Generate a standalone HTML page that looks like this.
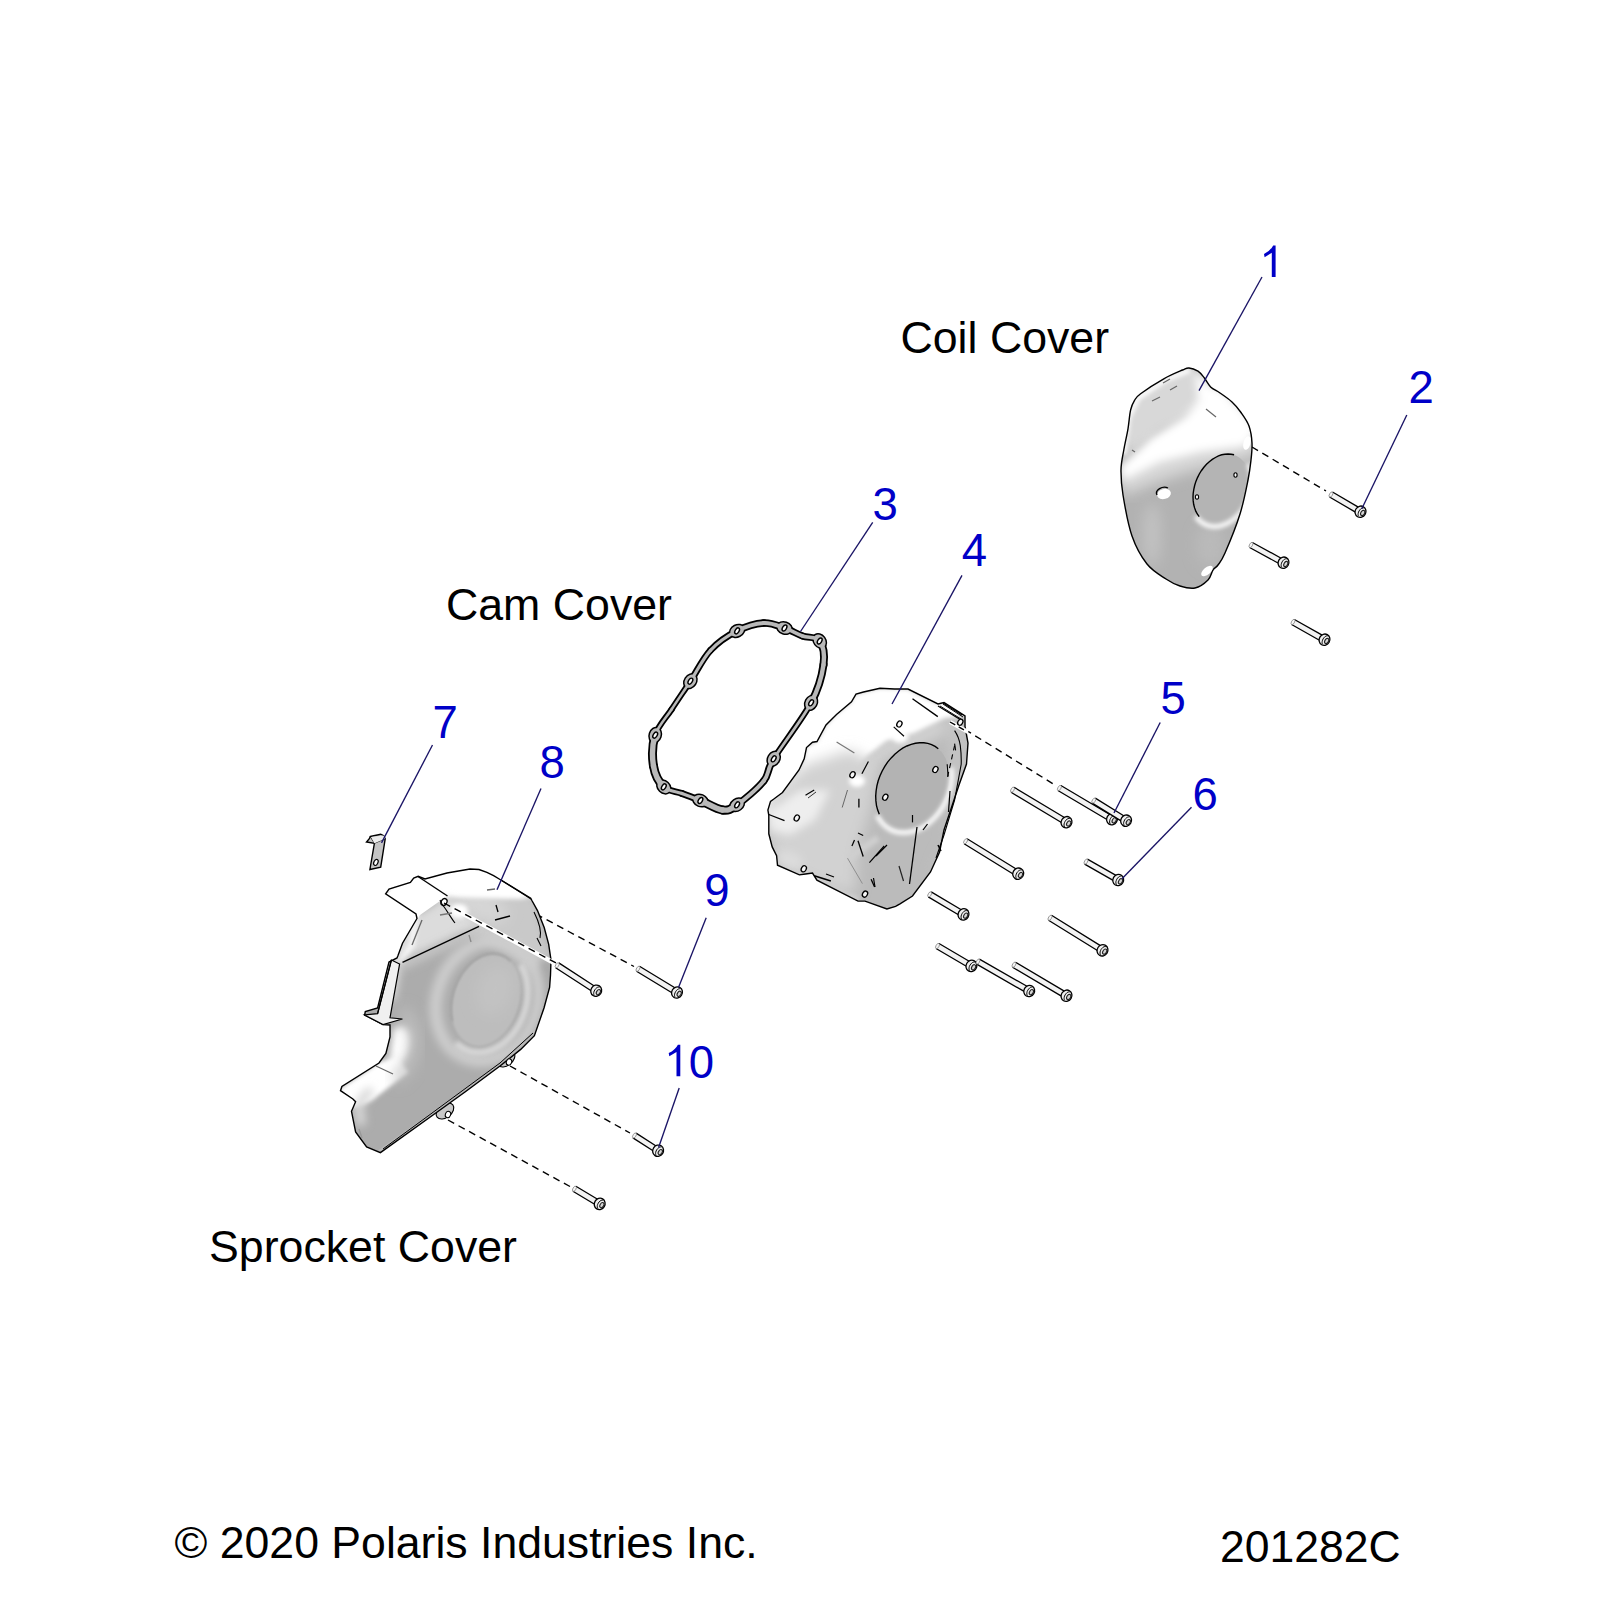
<!DOCTYPE html><html><head><meta charset="utf-8"><style>html,body{margin:0;padding:0;background:#fff;width:1600px;height:1600px;overflow:hidden}svg{display:block}</style></head><body>
<svg width="1600" height="1600" viewBox="0 0 1600 1600" style="font-family:'Liberation Sans', sans-serif">
<defs>
<filter id="b1" x="-50%" y="-50%" width="200%" height="200%"><feGaussianBlur stdDeviation="1.2"/></filter>
<filter id="b2" x="-50%" y="-50%" width="200%" height="200%"><feGaussianBlur stdDeviation="2"/></filter>
<filter id="b4" x="-50%" y="-50%" width="200%" height="200%"><feGaussianBlur stdDeviation="4"/></filter>
<filter id="b7" x="-50%" y="-50%" width="200%" height="200%"><feGaussianBlur stdDeviation="7"/></filter>
<clipPath id="cCoil"><path d="M1189.0,368.0 C1191.6,368.2 1195.4,369.6 1198.0,371.2 C1200.6,372.9 1202.3,375.4 1204.4,378.0 C1206.5,380.6 1208.0,384.4 1210.6,386.9 C1213.2,389.4 1216.4,390.5 1220.0,393.0 C1223.6,395.5 1228.5,398.8 1232.0,402.0 C1235.5,405.2 1238.2,408.5 1241.0,412.5 C1243.8,416.5 1247.2,420.9 1249.0,426.0 C1250.8,431.1 1251.7,437.3 1252.0,443.0 C1252.3,448.7 1251.7,453.8 1251.0,460.0 C1250.3,466.2 1249.8,471.0 1248.0,480.0 C1246.2,489.0 1243.8,501.8 1240.0,514.0 C1236.2,526.2 1228.7,544.5 1225.0,553.0 C1221.3,561.5 1220.0,562.2 1218.0,565.0 C1216.0,567.8 1214.7,567.5 1213.0,570.0 C1211.3,572.5 1211.0,577.0 1208.0,580.0 C1205.0,583.0 1199.7,587.0 1195.0,588.0 C1190.3,589.0 1184.8,587.5 1180.0,586.0 C1175.2,584.5 1171.5,582.7 1166.0,579.0 C1160.5,575.3 1152.7,571.2 1147.0,564.0 C1141.3,556.8 1136.0,547.5 1132.0,536.0 C1128.0,524.5 1124.8,506.0 1123.0,495.0 C1121.2,484.0 1120.9,477.5 1121.0,470.0 C1121.1,462.5 1122.6,456.9 1123.8,450.0 C1124.9,443.1 1126.9,435.4 1128.0,428.8 C1129.1,422.1 1129.5,414.7 1130.6,410.0 C1131.7,405.3 1132.7,403.3 1134.4,400.6 C1136.1,397.9 1135.7,397.4 1140.6,393.8 C1145.5,390.1 1156.8,382.7 1163.8,378.8 C1170.7,374.8 1178.3,371.8 1182.5,370.0 C1186.7,368.2 1186.4,367.8 1189.0,368.0Z"/></clipPath>
<clipPath id="cCam"><path d="M880.0,688.2 L863.5,692.0 L856.0,694.2 L851.5,701.8 L836.5,714.5 L826.0,725.0 L817.0,741.5 L812.5,742.2 L806.5,747.5 L804.2,758.8 L799.0,770.0 L782.5,792.5 L773.5,799.3 L770.5,801.4 L767.9,810.0 L768.8,815.4 L768.8,833.8 L772.2,846.9 L776.6,855.6 L777.5,865.2 L799.4,874.9 L805.5,874.0 L812.5,873.1 L816.9,880.1 L858.0,901.1 L865.0,901.1 L886.9,909.0 L895.6,906.4 L900.0,903.8 L912.5,896.0 L930.5,872.0 L939.5,852.4 L944.0,830.0 L959.0,785.0 L966.5,764.0 L968.0,743.0 L965.0,726.5 L965.0,716.0 L944.0,702.5 L938.0,704.0 L908.0,689.0 L894.5,689.0Z"/></clipPath>
<clipPath id="cSpr"><path d="M385.6,893.8 L389.0,889.0 L410.4,882.5 L413.7,878.0 L418.2,876.3 L425.0,879.0 L447.0,873.0 L470.0,869.0 L479.0,869.5 L486.9,872.4 L493.6,875.7 L499.2,879.0 L515.0,888.7 L530.7,898.2 L531.9,900.5 L537.5,910.6 L544.2,927.5 L548.7,944.4 L551.0,960.0 L550.5,975.0 L549.6,987.5 L544.0,1008.0 L534.4,1035.7 L520.7,1049.4 L500.0,1066.0 L465.0,1092.0 L428.5,1118.2 L380.4,1152.6 L366.6,1147.0 L355.6,1132.0 L351.5,1111.3 L355.6,1101.7 L352.9,1099.0 L340.5,1090.7 L341.9,1086.5 L379.0,1063.0 L385.9,1053.5 L390.0,1037.0 L390.0,1025.0 L383.0,1024.6 L364.6,1015.0 L365.3,1011.5 L377.6,1008.0 L389.0,962.0 L397.0,958.0 L398.0,955.6 L402.5,943.2 L417.0,918.5 L416.0,914.0 L385.6,893.8Z"/></clipPath>
<linearGradient id="gCoil" x1="0" y1="0" x2="0.3" y2="1"><stop offset="0" stop-color="#e6e6e6"/><stop offset="0.5" stop-color="#e0e0e0"/><stop offset="1" stop-color="#dadada"/></linearGradient>
<linearGradient id="gCam" x1="0.2" y1="0" x2="0.5" y2="1"><stop offset="0" stop-color="#ffffff"/><stop offset="0.35" stop-color="#eeeeee"/><stop offset="1" stop-color="#d0d0d0"/></linearGradient>
<linearGradient id="gSpr" x1="0" y1="0" x2="0.3" y2="1"><stop offset="0" stop-color="#dcdcdc"/><stop offset="1" stop-color="#d0d0d0"/></linearGradient>
</defs>
<line x1="1252.0" y1="447.0" x2="1326.0" y2="491.0" stroke="#000" stroke-width="1.4" stroke-dasharray="7,5"/>
<line x1="965.0" y1="729.5" x2="1055.0" y2="785.0" stroke="#000" stroke-width="1.4" stroke-dasharray="7,5"/>
<line x1="536.0" y1="914.0" x2="634.0" y2="966.5" stroke="#000" stroke-width="1.4" stroke-dasharray="7,5"/>
<line x1="510.0" y1="1066.0" x2="630.0" y2="1133.0" stroke="#000" stroke-width="1.4" stroke-dasharray="7,5"/>
<line x1="448.0" y1="1120.0" x2="570.0" y2="1186.5" stroke="#000" stroke-width="1.4" stroke-dasharray="7,5"/>
<path d="M737.1,630.9 C746.0,626.4 755.8,623.5 763.7,623.0" fill="none" stroke="#000" stroke-width="7.5" stroke-linecap="round"/>
<path d="M763.7,623.0 C771.6,622.5 778.0,625.8 784.5,628.0" fill="none" stroke="#000" stroke-width="7.5" stroke-linecap="round"/>
<path d="M784.5,628.0 C791.0,630.2 796.6,633.8 802.5,636.0" fill="none" stroke="#000" stroke-width="7.2" stroke-linecap="round"/>
<path d="M802.5,636.0 C808.4,638.2 816.2,636.2 819.7,641.0" fill="none" stroke="#000" stroke-width="7.2" stroke-linecap="round"/>
<path d="M819.7,641.0 C823.2,645.8 824.9,654.4 823.5,664.7" fill="none" stroke="#000" stroke-width="8.0" stroke-linecap="round"/>
<path d="M823.5,664.7 C822.1,675.0 819.4,687.1 811.1,702.8" fill="none" stroke="#000" stroke-width="8.0" stroke-linecap="round"/>
<path d="M811.1,702.8 C802.8,718.5 781.6,745.8 773.7,758.8" fill="none" stroke="#000" stroke-width="6.4" stroke-linecap="round"/>
<path d="M773.7,758.8 C765.8,771.8 769.8,773.3 763.7,781.0" fill="none" stroke="#000" stroke-width="7.5" stroke-linecap="round"/>
<path d="M763.7,781.0 C757.6,788.7 744.0,800.0 737.1,804.8" fill="none" stroke="#000" stroke-width="7.5" stroke-linecap="round"/>
<path d="M737.1,804.8 C730.2,809.6 728.6,810.7 722.5,810.0" fill="none" stroke="#000" stroke-width="9.0" stroke-linecap="round"/>
<path d="M722.5,810.0 C716.4,809.3 707.1,803.2 700.4,800.5" fill="none" stroke="#000" stroke-width="9.0" stroke-linecap="round"/>
<path d="M700.4,800.5 C693.6,797.8 688.1,795.8 682.0,793.5" fill="none" stroke="#000" stroke-width="6.8" stroke-linecap="round"/>
<path d="M682.0,793.5 C675.9,791.2 668.5,791.5 663.8,786.9" fill="none" stroke="#000" stroke-width="6.8" stroke-linecap="round"/>
<path d="M663.8,786.9 C659.0,782.3 654.9,774.6 653.5,766.0" fill="none" stroke="#000" stroke-width="9.0" stroke-linecap="round"/>
<path d="M653.5,766.0 C652.1,757.4 652.2,744.6 655.2,735.1" fill="none" stroke="#000" stroke-width="9.0" stroke-linecap="round"/>
<path d="M655.2,735.1 C658.2,725.6 665.8,718.2 671.7,709.2" fill="none" stroke="#000" stroke-width="6.2" stroke-linecap="round"/>
<path d="M671.7,709.2 C677.6,700.2 683.9,691.0 690.4,681.2" fill="none" stroke="#000" stroke-width="6.2" stroke-linecap="round"/>
<path d="M690.4,681.2 C696.9,671.4 702.7,658.7 710.5,650.3" fill="none" stroke="#000" stroke-width="6.8" stroke-linecap="round"/>
<path d="M710.5,650.3 C718.3,641.9 728.2,635.4 737.1,630.9" fill="none" stroke="#000" stroke-width="6.8" stroke-linecap="round"/>
<ellipse cx="737.1" cy="630.9" rx="8.6" ry="6.8" transform="rotate(-27.2 737.1 630.9)" fill="#000"/>
<ellipse cx="784.5" cy="628.0" rx="8.6" ry="6.8" transform="rotate(18.5 784.5 628.0)" fill="#000"/>
<ellipse cx="819.7" cy="641.0" rx="8.6" ry="6.8" transform="rotate(53.8 819.7 641.0)" fill="#000"/>
<ellipse cx="811.1" cy="702.8" rx="8.6" ry="6.8" transform="rotate(117.9 811.1 702.8)" fill="#000"/>
<ellipse cx="773.7" cy="758.8" rx="8.6" ry="6.8" transform="rotate(121.2 773.7 758.8)" fill="#000"/>
<ellipse cx="737.1" cy="804.8" rx="8.6" ry="6.8" transform="rotate(144.9 737.1 804.8)" fill="#000"/>
<ellipse cx="700.4" cy="800.5" rx="8.6" ry="6.8" transform="rotate(-157.8 700.4 800.5)" fill="#000"/>
<ellipse cx="663.8" cy="786.9" rx="8.6" ry="6.8" transform="rotate(-136.0 663.8 786.9)" fill="#000"/>
<ellipse cx="655.2" cy="735.1" rx="8.6" ry="6.8" transform="rotate(-72.2 655.2 735.1)" fill="#000"/>
<ellipse cx="690.4" cy="681.2" rx="8.6" ry="6.8" transform="rotate(-56.6 690.4 681.2)" fill="#000"/>
<path d="M737.1,630.9 C746.0,626.4 755.8,623.5 763.7,623.0" fill="none" stroke="#b9b9b9" stroke-width="3.9" stroke-linecap="round"/>
<path d="M763.7,623.0 C771.6,622.5 778.0,625.8 784.5,628.0" fill="none" stroke="#b9b9b9" stroke-width="3.9" stroke-linecap="round"/>
<path d="M784.5,628.0 C791.0,630.2 796.6,633.8 802.5,636.0" fill="none" stroke="#b9b9b9" stroke-width="3.6" stroke-linecap="round"/>
<path d="M802.5,636.0 C808.4,638.2 816.2,636.2 819.7,641.0" fill="none" stroke="#b9b9b9" stroke-width="3.6" stroke-linecap="round"/>
<path d="M819.7,641.0 C823.2,645.8 824.9,654.4 823.5,664.7" fill="none" stroke="#b9b9b9" stroke-width="4.4" stroke-linecap="round"/>
<path d="M823.5,664.7 C822.1,675.0 819.4,687.1 811.1,702.8" fill="none" stroke="#b9b9b9" stroke-width="4.4" stroke-linecap="round"/>
<path d="M811.1,702.8 C802.8,718.5 781.6,745.8 773.7,758.8" fill="none" stroke="#b9b9b9" stroke-width="2.8" stroke-linecap="round"/>
<path d="M773.7,758.8 C765.8,771.8 769.8,773.3 763.7,781.0" fill="none" stroke="#b9b9b9" stroke-width="3.9" stroke-linecap="round"/>
<path d="M763.7,781.0 C757.6,788.7 744.0,800.0 737.1,804.8" fill="none" stroke="#b9b9b9" stroke-width="3.9" stroke-linecap="round"/>
<path d="M737.1,804.8 C730.2,809.6 728.6,810.7 722.5,810.0" fill="none" stroke="#b9b9b9" stroke-width="5.4" stroke-linecap="round"/>
<path d="M722.5,810.0 C716.4,809.3 707.1,803.2 700.4,800.5" fill="none" stroke="#b9b9b9" stroke-width="5.4" stroke-linecap="round"/>
<path d="M700.4,800.5 C693.6,797.8 688.1,795.8 682.0,793.5" fill="none" stroke="#b9b9b9" stroke-width="3.2" stroke-linecap="round"/>
<path d="M682.0,793.5 C675.9,791.2 668.5,791.5 663.8,786.9" fill="none" stroke="#b9b9b9" stroke-width="3.2" stroke-linecap="round"/>
<path d="M663.8,786.9 C659.0,782.3 654.9,774.6 653.5,766.0" fill="none" stroke="#b9b9b9" stroke-width="5.4" stroke-linecap="round"/>
<path d="M653.5,766.0 C652.1,757.4 652.2,744.6 655.2,735.1" fill="none" stroke="#b9b9b9" stroke-width="5.4" stroke-linecap="round"/>
<path d="M655.2,735.1 C658.2,725.6 665.8,718.2 671.7,709.2" fill="none" stroke="#b9b9b9" stroke-width="2.6" stroke-linecap="round"/>
<path d="M671.7,709.2 C677.6,700.2 683.9,691.0 690.4,681.2" fill="none" stroke="#b9b9b9" stroke-width="2.6" stroke-linecap="round"/>
<path d="M690.4,681.2 C696.9,671.4 702.7,658.7 710.5,650.3" fill="none" stroke="#b9b9b9" stroke-width="3.2" stroke-linecap="round"/>
<path d="M710.5,650.3 C718.3,641.9 728.2,635.4 737.1,630.9" fill="none" stroke="#b9b9b9" stroke-width="3.2" stroke-linecap="round"/>
<ellipse cx="737.1" cy="630.9" rx="7.1" ry="5.3" transform="rotate(-27.2 737.1 630.9)" fill="#b9b9b9"/>
<ellipse cx="737.1" cy="630.9" rx="1.9" ry="3.3" transform="rotate(32 737.1 630.9)" fill="#fff" stroke="#000" stroke-width="1.4"/>
<ellipse cx="784.5" cy="628.0" rx="7.1" ry="5.3" transform="rotate(18.5 784.5 628.0)" fill="#b9b9b9"/>
<ellipse cx="784.5" cy="628.0" rx="1.9" ry="3.3" transform="rotate(32 784.5 628.0)" fill="#fff" stroke="#000" stroke-width="1.4"/>
<ellipse cx="819.7" cy="641.0" rx="7.1" ry="5.3" transform="rotate(53.8 819.7 641.0)" fill="#b9b9b9"/>
<ellipse cx="819.7" cy="641.0" rx="1.9" ry="3.3" transform="rotate(32 819.7 641.0)" fill="#fff" stroke="#000" stroke-width="1.4"/>
<ellipse cx="811.1" cy="702.8" rx="7.1" ry="5.3" transform="rotate(117.9 811.1 702.8)" fill="#b9b9b9"/>
<ellipse cx="811.1" cy="702.8" rx="1.9" ry="3.3" transform="rotate(32 811.1 702.8)" fill="#fff" stroke="#000" stroke-width="1.4"/>
<ellipse cx="773.7" cy="758.8" rx="7.1" ry="5.3" transform="rotate(121.2 773.7 758.8)" fill="#b9b9b9"/>
<ellipse cx="773.7" cy="758.8" rx="1.9" ry="3.3" transform="rotate(32 773.7 758.8)" fill="#fff" stroke="#000" stroke-width="1.4"/>
<ellipse cx="737.1" cy="804.8" rx="7.1" ry="5.3" transform="rotate(144.9 737.1 804.8)" fill="#b9b9b9"/>
<ellipse cx="737.1" cy="804.8" rx="1.9" ry="3.3" transform="rotate(32 737.1 804.8)" fill="#fff" stroke="#000" stroke-width="1.4"/>
<ellipse cx="700.4" cy="800.5" rx="7.1" ry="5.3" transform="rotate(-157.8 700.4 800.5)" fill="#b9b9b9"/>
<ellipse cx="700.4" cy="800.5" rx="1.9" ry="3.3" transform="rotate(32 700.4 800.5)" fill="#fff" stroke="#000" stroke-width="1.4"/>
<ellipse cx="663.8" cy="786.9" rx="7.1" ry="5.3" transform="rotate(-136.0 663.8 786.9)" fill="#b9b9b9"/>
<ellipse cx="663.8" cy="786.9" rx="1.9" ry="3.3" transform="rotate(32 663.8 786.9)" fill="#fff" stroke="#000" stroke-width="1.4"/>
<ellipse cx="655.2" cy="735.1" rx="7.1" ry="5.3" transform="rotate(-72.2 655.2 735.1)" fill="#b9b9b9"/>
<ellipse cx="655.2" cy="735.1" rx="1.9" ry="3.3" transform="rotate(32 655.2 735.1)" fill="#fff" stroke="#000" stroke-width="1.4"/>
<ellipse cx="690.4" cy="681.2" rx="7.1" ry="5.3" transform="rotate(-56.6 690.4 681.2)" fill="#b9b9b9"/>
<ellipse cx="690.4" cy="681.2" rx="1.9" ry="3.3" transform="rotate(32 690.4 681.2)" fill="#fff" stroke="#000" stroke-width="1.4"/>
<path d="M1189.0,368.0 C1191.6,368.2 1195.4,369.6 1198.0,371.2 C1200.6,372.9 1202.3,375.4 1204.4,378.0 C1206.5,380.6 1208.0,384.4 1210.6,386.9 C1213.2,389.4 1216.4,390.5 1220.0,393.0 C1223.6,395.5 1228.5,398.8 1232.0,402.0 C1235.5,405.2 1238.2,408.5 1241.0,412.5 C1243.8,416.5 1247.2,420.9 1249.0,426.0 C1250.8,431.1 1251.7,437.3 1252.0,443.0 C1252.3,448.7 1251.7,453.8 1251.0,460.0 C1250.3,466.2 1249.8,471.0 1248.0,480.0 C1246.2,489.0 1243.8,501.8 1240.0,514.0 C1236.2,526.2 1228.7,544.5 1225.0,553.0 C1221.3,561.5 1220.0,562.2 1218.0,565.0 C1216.0,567.8 1214.7,567.5 1213.0,570.0 C1211.3,572.5 1211.0,577.0 1208.0,580.0 C1205.0,583.0 1199.7,587.0 1195.0,588.0 C1190.3,589.0 1184.8,587.5 1180.0,586.0 C1175.2,584.5 1171.5,582.7 1166.0,579.0 C1160.5,575.3 1152.7,571.2 1147.0,564.0 C1141.3,556.8 1136.0,547.5 1132.0,536.0 C1128.0,524.5 1124.8,506.0 1123.0,495.0 C1121.2,484.0 1120.9,477.5 1121.0,470.0 C1121.1,462.5 1122.6,456.9 1123.8,450.0 C1124.9,443.1 1126.9,435.4 1128.0,428.8 C1129.1,422.1 1129.5,414.7 1130.6,410.0 C1131.7,405.3 1132.7,403.3 1134.4,400.6 C1136.1,397.9 1135.7,397.4 1140.6,393.8 C1145.5,390.1 1156.8,382.7 1163.8,378.8 C1170.7,374.8 1178.3,371.8 1182.5,370.0 C1186.7,368.2 1186.4,367.8 1189.0,368.0Z" fill="#b2b2b2"/>
<g clip-path="url(#cCoil)">
<path d="M1120,420 L1135,392 L1165,374 L1192,364 L1210,380 L1225,395 L1200,410 L1160,430 L1128,455 Z" fill="#d8d8d8" filter="url(#b4)"/>
<path d="M1124,455 L1128,418 L1138,398 L1165,380 L1190,370" stroke="#fff" stroke-width="5" fill="none" filter="url(#b2)"/>
<path d="M1118,482 C1140,472 1160,465 1185,457 C1210,451 1235,447 1256,440" stroke="#d8d8d8" stroke-width="30" fill="none" filter="url(#b7)"/>
<path d="M1120,468 L1150,438 L1185,416 L1200,398 L1214,390 L1240,405 L1258,430 L1245,446 L1200,452 L1160,462 L1124,480 Z" fill="#fff" filter="url(#b4)"/>
<path d="M1195,372 L1212,388 L1235,402 L1215,412 L1198,398 Z" fill="#fff" filter="url(#b4)"/>
<ellipse cx="1152" cy="535" rx="9" ry="32" fill="#c2c2c2" filter="url(#b7)"/>
<ellipse cx="1210" cy="545" rx="14" ry="22" fill="#bababa" filter="url(#b7)"/>
<ellipse cx="1221.4" cy="489.0" rx="26.5" ry="36.5" transform="rotate(24 1221.4 489.0)" fill="#b4b4b4"/>
<path d="M1248.4,464.0 L1250.1,467.8 L1251.3,471.9 L1252.0,476.3 L1252.3,480.9 L1252.0,485.6 L1251.3,490.4 L1250.0,495.1 L1248.3,499.8 L1246.2,504.2 L1243.7,508.5 L1240.8,512.4 L1237.6,515.9 L1234.1,519.0 L1230.4,521.6 L1226.6,523.7 L1222.7,525.2 L1218.8,526.2 L1214.9,526.5 L1211.1,526.3 L1207.5,525.4 L1204.1,523.9 L1201.0,521.9 L1198.2,519.4 L1195.8,516.3" stroke="#fff" stroke-width="4.5" fill="none" filter="url(#b2)"/>
<path d="M1199.2,516.6 L1197.3,514.0 L1195.8,511.1 L1194.6,507.9 L1193.7,504.5 L1193.2,500.9 L1193.0,497.1 L1193.2,493.2 L1193.8,489.3 L1194.7,485.3 L1195.9,481.4 L1197.5,477.6 L1199.3,474.0 L1201.5,470.5 L1203.9,467.3 L1206.5,464.3 L1209.3,461.7 L1212.3,459.4 L1215.4,457.5 L1218.5,455.9 L1221.7,454.8 L1224.9,454.2 L1228.1,454.0 L1231.1,454.2 L1234.1,454.8" stroke="#000" stroke-width="1.4" fill="none"/>
</g>
<path d="M1189.0,368.0 C1191.6,368.2 1195.4,369.6 1198.0,371.2 C1200.6,372.9 1202.3,375.4 1204.4,378.0 C1206.5,380.6 1208.0,384.4 1210.6,386.9 C1213.2,389.4 1216.4,390.5 1220.0,393.0 C1223.6,395.5 1228.5,398.8 1232.0,402.0 C1235.5,405.2 1238.2,408.5 1241.0,412.5 C1243.8,416.5 1247.2,420.9 1249.0,426.0 C1250.8,431.1 1251.7,437.3 1252.0,443.0 C1252.3,448.7 1251.7,453.8 1251.0,460.0 C1250.3,466.2 1249.8,471.0 1248.0,480.0 C1246.2,489.0 1243.8,501.8 1240.0,514.0 C1236.2,526.2 1228.7,544.5 1225.0,553.0 C1221.3,561.5 1220.0,562.2 1218.0,565.0 C1216.0,567.8 1214.7,567.5 1213.0,570.0 C1211.3,572.5 1211.0,577.0 1208.0,580.0 C1205.0,583.0 1199.7,587.0 1195.0,588.0 C1190.3,589.0 1184.8,587.5 1180.0,586.0 C1175.2,584.5 1171.5,582.7 1166.0,579.0 C1160.5,575.3 1152.7,571.2 1147.0,564.0 C1141.3,556.8 1136.0,547.5 1132.0,536.0 C1128.0,524.5 1124.8,506.0 1123.0,495.0 C1121.2,484.0 1120.9,477.5 1121.0,470.0 C1121.1,462.5 1122.6,456.9 1123.8,450.0 C1124.9,443.1 1126.9,435.4 1128.0,428.8 C1129.1,422.1 1129.5,414.7 1130.6,410.0 C1131.7,405.3 1132.7,403.3 1134.4,400.6 C1136.1,397.9 1135.7,397.4 1140.6,393.8 C1145.5,390.1 1156.8,382.7 1163.8,378.8 C1170.7,374.8 1178.3,371.8 1182.5,370.0 C1186.7,368.2 1186.4,367.8 1189.0,368.0Z" fill="none" stroke="#000" stroke-width="1.4"/>
<ellipse cx="1164" cy="494" rx="7" ry="5" transform="rotate(-15 1164 494)" fill="#fff" stroke="none"/>
<path d="M1157,495 A7,5 -15 0 1 1168,488" stroke="#000" stroke-width="1.4" fill="none"/>
<ellipse cx="1207" cy="571" rx="7" ry="3.5" transform="rotate(-40 1207 571)" fill="#fff"/>
<ellipse cx="1247" cy="443" rx="3.5" ry="7" transform="rotate(15 1247 443)" fill="#fff"/>
<ellipse cx="1235.5" cy="475" rx="1.6" ry="2.2" fill="#fff" stroke="#000" stroke-width="1.1"/>
<ellipse cx="1197" cy="497" rx="1.6" ry="2.2" fill="#fff" stroke="#000" stroke-width="1.1"/>
<line x1="1152" y1="401" x2="1160" y2="397" stroke="#666" stroke-width="1.2"/>
<line x1="1170" y1="390" x2="1177" y2="386" stroke="#666" stroke-width="1.2"/>
<line x1="1163" y1="383" x2="1170" y2="379" stroke="#666" stroke-width="1.2"/>
<line x1="1206" y1="409" x2="1216" y2="417" stroke="#666" stroke-width="1.2"/>
<line x1="1132" y1="450" x2="1135" y2="452" stroke="#666" stroke-width="1.2"/>
<path d="M880.0,688.2 L863.5,692.0 L856.0,694.2 L851.5,701.8 L836.5,714.5 L826.0,725.0 L817.0,741.5 L812.5,742.2 L806.5,747.5 L804.2,758.8 L799.0,770.0 L782.5,792.5 L773.5,799.3 L770.5,801.4 L767.9,810.0 L768.8,815.4 L768.8,833.8 L772.2,846.9 L776.6,855.6 L777.5,865.2 L799.4,874.9 L805.5,874.0 L812.5,873.1 L816.9,880.1 L858.0,901.1 L865.0,901.1 L886.9,909.0 L895.6,906.4 L900.0,903.8 L912.5,896.0 L930.5,872.0 L939.5,852.4 L944.0,830.0 L959.0,785.0 L966.5,764.0 L968.0,743.0 L965.0,726.5 L965.0,716.0 L944.0,702.5 L938.0,704.0 L908.0,689.0 L894.5,689.0Z" fill="#bbbbbb"/>
<g clip-path="url(#cCam)">
<path d="M944,702 L965,716 L968,745 L960,790 L944,830 L925,880 L915,900 L935,860 L950,800 Z" fill="#c2c2c2" filter="url(#b4)"/>
<path d="M945,724 L914,739 L886,748 L867,763 L853,779 L835,790 L812,802 L795,815 L770,825" stroke="#d4d4d4" stroke-width="16" fill="none" filter="url(#b7)"/>
<path d="M855,694 L880,688 L908,689 L938,704 L944,702.5 L965,716 L945,718 L914,733 L886,741 L867,756 L853,772 L838,781 L818,792 L800,803 L786,813 L770,818 L760,805 L782,792 L799,770 L804,759 L806,747 L817,741 L826,725 L836,714 L851,702 Z" fill="#fff" filter="url(#b2)"/>
<path d="M766,800 L805,765 L850,750 L878,765 L872,805 L858,850 L855,895 L820,885 L777,866 L766,830 Z" fill="#d2d2d2" filter="url(#b7)"/>
<path d="M768,812 L800,790 L830,790 L815,820 L790,835 L770,830 Z" fill="#eeeeee" filter="url(#b4)"/>
<ellipse cx="790" cy="860" rx="14" ry="8" transform="rotate(25 790 860)" fill="#dcdcdc" filter="url(#b4)"/>
<ellipse cx="900" cy="737" rx="8" ry="6" fill="#fff" filter="url(#b2)"/>
<ellipse cx="857" cy="781" rx="8" ry="6" fill="#fff" filter="url(#b2)"/>
<path d="M790,872 L858,900" stroke="#d0d0d0" stroke-width="6" filter="url(#b2)"/>
<path d="M848,858 L878,838" stroke="#cfcfcf" stroke-width="7" filter="url(#b2)"/>
<ellipse cx="912.5" cy="786.4" rx="34.0" ry="46.0" transform="rotate(27 912.5 786.4)" fill="#b3b3b3"/>
<path d="M951.1,767.6 L951.7,772.8 L951.7,778.1 L951.2,783.7 L950.1,789.2 L948.5,794.7 L946.4,800.1 L943.8,805.3 L940.7,810.2 L937.2,814.8 L933.4,819.0 L929.3,822.7 L924.9,825.9 L920.3,828.5 L915.7,830.5 L911.0,831.8 L906.3,832.6 L901.7,832.6 L897.2,832.0 L893.0,830.8 L889.1,828.8 L885.5,826.3 L882.3,823.3 L879.5,819.6 L877.2,815.5" stroke="#fff" stroke-width="4.5" fill="none" filter="url(#b2)"/>
<path d="M879.3,814.2 L877.7,810.1 L876.5,805.6 L875.9,800.9 L875.7,796.0 L876.1,791.0 L876.9,785.9 L878.2,780.8 L880.0,775.8 L882.2,771.0 L884.8,766.3 L887.8,761.9 L891.2,757.9 L894.8,754.2 L898.7,751.0 L902.7,748.2 L906.9,746.0 L911.2,744.3 L915.4,743.2 L919.7,742.7 L923.8,742.7 L927.8,743.4 L931.6,744.6 L935.1,746.4 L938.3,748.7" stroke="#000" stroke-width="1.4" fill="none"/>
</g>
<path d="M880.0,688.2 L863.5,692.0 L856.0,694.2 L851.5,701.8 L836.5,714.5 L826.0,725.0 L817.0,741.5 L812.5,742.2 L806.5,747.5 L804.2,758.8 L799.0,770.0 L782.5,792.5 L773.5,799.3 L770.5,801.4 L767.9,810.0 L768.8,815.4 L768.8,833.8 L772.2,846.9 L776.6,855.6 L777.5,865.2 L799.4,874.9 L805.5,874.0 L812.5,873.1 L816.9,880.1 L858.0,901.1 L865.0,901.1 L886.9,909.0 L895.6,906.4 L900.0,903.8 L912.5,896.0 L930.5,872.0 L939.5,852.4 L944.0,830.0 L959.0,785.0 L966.5,764.0 L968.0,743.0 L965.0,726.5 L965.0,716.0 L944.0,702.5 L938.0,704.0 L908.0,689.0 L894.5,689.0Z" fill="none" stroke="#000" stroke-width="1.4"/>
<path d="M954.6,730.6 C959,737 960.3,745.6 960.3,745.6 C961.5,755 961.2,764.3 961.2,764.3 L954.6,800 L944,835 L936,858" stroke="#000" stroke-width="1.1" fill="none"/>
<path d="M912.5,698.8 L937.8,716.6" stroke="#000" stroke-width="1.4"/>
<path d="M940,706 L961,719 M943,704 L963,717" stroke="#000" stroke-width="1.0" fill="none"/>
<path d="M954.6,745.6 L947.2,778.4" stroke="#000" stroke-width="1.1" stroke-dasharray="5,4"/>
<line x1="950" y1="722" x2="968" y2="732" stroke="#fff" stroke-width="4"/>
<line x1="950" y1="722" x2="966" y2="731" stroke="#000" stroke-width="1.4" stroke-dasharray="6,4"/>
<path d="M938,706 L961,720 M943,703 L962,715" stroke="#000" stroke-width="1.2" fill="none"/>
<ellipse cx="899.4" cy="724.0" rx="2.4" ry="3.2" transform="rotate(30 899.4 724.0)" fill="#f8f8f8" stroke="#000" stroke-width="1.3"/>
<ellipse cx="852.5" cy="774.7" rx="2.4" ry="3.2" transform="rotate(30 852.5 774.7)" fill="#f8f8f8" stroke="#000" stroke-width="1.3"/>
<ellipse cx="960.3" cy="722.2" rx="2.4" ry="3.2" transform="rotate(30 960.3 722.2)" fill="#f8f8f8" stroke="#000" stroke-width="1.3"/>
<ellipse cx="935.4" cy="769.5" rx="2.4" ry="3.2" transform="rotate(30 935.4 769.5)" fill="#f8f8f8" stroke="#000" stroke-width="1.3"/>
<ellipse cx="885.3" cy="797.2" rx="2.4" ry="3.2" transform="rotate(30 885.3 797.2)" fill="#f8f8f8" stroke="#000" stroke-width="1.3"/>
<ellipse cx="796.8" cy="818.0" rx="2.4" ry="3.2" transform="rotate(30 796.8 818.0)" fill="#f8f8f8" stroke="#000" stroke-width="1.3"/>
<ellipse cx="803.8" cy="868.8" rx="2.4" ry="3.2" transform="rotate(30 803.8 868.8)" fill="#f8f8f8" stroke="#000" stroke-width="1.3"/>
<ellipse cx="865.0" cy="894.1" rx="2.4" ry="3.2" transform="rotate(30 865.0 894.1)" fill="#f8f8f8" stroke="#000" stroke-width="1.3"/>
<line x1="836.6" y1="741.9" x2="854.4" y2="753.1" stroke="#777" stroke-width="1.2"/>
<line x1="893.7" y1="726.9" x2="904.0" y2="736.2" stroke="#000" stroke-width="1.2"/>
<line x1="868.4" y1="761.5" x2="861.9" y2="773.7" stroke="#000" stroke-width="1.2"/>
<line x1="954.6" y1="743.7" x2="955.6" y2="750.3" stroke="#000" stroke-width="1.1"/>
<line x1="947.2" y1="764.3" x2="948.1" y2="776.5" stroke="#000" stroke-width="1.1"/>
<line x1="805.5" y1="795.2" x2="814.2" y2="790.0" stroke="#000" stroke-width="1.2"/>
<line x1="808.0" y1="798.0" x2="816.0" y2="792.0" stroke="#333" stroke-width="1.0"/>
<line x1="768.8" y1="814.5" x2="784.5" y2="820.6" stroke="#000" stroke-width="1.3"/>
<line x1="842.2" y1="807.5" x2="847.5" y2="790.0" stroke="#666" stroke-width="1.0"/>
<line x1="858.9" y1="798.8" x2="858.9" y2="807.5" stroke="#000" stroke-width="1.3"/>
<line x1="858.0" y1="832.9" x2="863.2" y2="835.5" stroke="#000" stroke-width="1.1"/>
<line x1="851.9" y1="846.0" x2="854.5" y2="839.9" stroke="#000" stroke-width="1.2"/>
<line x1="858.0" y1="840.8" x2="863.2" y2="856.5" stroke="#000" stroke-width="1.3"/>
<line x1="869.4" y1="862.6" x2="884.2" y2="846.0" stroke="#000" stroke-width="1.2"/>
<line x1="847.5" y1="858.2" x2="862.4" y2="883.6" stroke="#888" stroke-width="0.9"/>
<line x1="871.1" y1="879.2" x2="874.6" y2="887.1" stroke="#000" stroke-width="1.3"/>
<line x1="814.2" y1="875.7" x2="830.9" y2="881.0" stroke="#000" stroke-width="1.6"/>
<line x1="826.0" y1="874.0" x2="834.0" y2="877.0" stroke="#000" stroke-width="1.2"/>
<line x1="917.0" y1="827.0" x2="909.5" y2="884.0" stroke="#000" stroke-width="1.3"/>
<line x1="899.0" y1="866.0" x2="903.5" y2="881.0" stroke="#222" stroke-width="1.2"/>
<line x1="927.5" y1="824.0" x2="923.0" y2="830.0" stroke="#000" stroke-width="1.2"/>
<line x1="912.5" y1="815.0" x2="912.5" y2="822.4" stroke="#000" stroke-width="1.2"/>
<line x1="950.0" y1="791.0" x2="948.5" y2="812.0" stroke="#000" stroke-width="1.2"/>
<line x1="938.0" y1="845.0" x2="941.0" y2="851.0" stroke="#000" stroke-width="1.5"/>
<line x1="887.0" y1="845.0" x2="876.0" y2="856.0" stroke="#000" stroke-width="1.2"/>
<line x1="873.5" y1="878.0" x2="875.0" y2="887.0" stroke="#000" stroke-width="1.2"/>
<ellipse cx="445.0" cy="1111.0" rx="10" ry="6.5" transform="rotate(-38 445.0 1111.0)" fill="#c8c8c8" stroke="#000" stroke-width="1.1"/>
<ellipse cx="506.0" cy="1059.0" rx="10" ry="6.5" transform="rotate(-38 506.0 1059.0)" fill="#c8c8c8" stroke="#000" stroke-width="1.1"/>
<path d="M385.6,893.8 L389.0,889.0 L410.4,882.5 L413.7,878.0 L418.2,876.3 L425.0,879.0 L447.0,873.0 L470.0,869.0 L479.0,869.5 L486.9,872.4 L493.6,875.7 L499.2,879.0 L515.0,888.7 L530.7,898.2 L531.9,900.5 L537.5,910.6 L544.2,927.5 L548.7,944.4 L551.0,960.0 L550.5,975.0 L549.6,987.5 L544.0,1008.0 L534.4,1035.7 L520.7,1049.4 L500.0,1066.0 L465.0,1092.0 L428.5,1118.2 L380.4,1152.6 L366.6,1147.0 L355.6,1132.0 L351.5,1111.3 L355.6,1101.7 L352.9,1099.0 L340.5,1090.7 L341.9,1086.5 L379.0,1063.0 L385.9,1053.5 L390.0,1037.0 L390.0,1025.0 L383.0,1024.6 L364.6,1015.0 L365.3,1011.5 L377.6,1008.0 L389.0,962.0 L397.0,958.0 L398.0,955.6 L402.5,943.2 L417.0,918.5 L416.0,914.0 L385.6,893.8Z" fill="#acacac"/>
<g clip-path="url(#cSpr)">
<path d="M440,868 L500,870 L535,896 L552,960 L540,975 L500,950 L470,935 L440,915 Z" fill="#c9c9c9" filter="url(#b4)"/>
<ellipse cx="480" cy="905" rx="30" ry="14" transform="rotate(25 480 905)" fill="#d6d6d6" filter="url(#b7)"/>
<path d="M553,960 L550,1000 L535,1036 L505,1066 L520,1000 L540,960 Z" fill="#a6a6a6" filter="url(#b4)"/>
<path d="M380,890 L418,872 L470,862 L502,872 L540,895 L520,899 L450,897 L420,905 Z" fill="#fff" filter="url(#b2)"/>
<path d="M416,915 L447,897 L479,926 L402,962 L395,1000 L375,1000 L395,930 Z" fill="#dcdcdc" filter="url(#b4)"/>
<path d="M416,912 L412,945 L400,962" stroke="#f6f6f6" stroke-width="6" fill="none" filter="url(#b2)"/>
<path d="M386,894 L418,877 L447,896 L420,915 L402,943 Z" fill="#fff"/>
<ellipse cx="459" cy="911" rx="9" ry="7" fill="#fff" filter="url(#b2)"/>
<path d="M402,966 L479,930" stroke="#c4c4c4" stroke-width="8" fill="none" filter="url(#b4)"/>
<path d="M398,1028 C408,1050 398,1068 368,1088 L352,1100" stroke="#fff" stroke-width="13" fill="none" filter="url(#b4)"/>
<path d="M338,1090 L380,1062 L398,1058 L408,1072 L372,1100 L354,1108 Z" fill="#fff" filter="url(#b2)"/>
<ellipse cx="401" cy="1045" rx="8" ry="17" transform="rotate(15 401 1045)" fill="#fff" filter="url(#b4)"/>
<path d="M362,1125 C358,1110 356,1100 372,1090" stroke="#d8d8d8" stroke-width="9" fill="none" filter="url(#b4)"/>
<path d="M402,1010 C420,1030 420,1060 395,1080" stroke="#c0c0c0" stroke-width="10" fill="none" filter="url(#b7)"/>
<ellipse cx="487" cy="1001" rx="50" ry="61" transform="rotate(20 487 1001)" fill="none" stroke="#cdcdcd" stroke-width="12" filter="url(#b4)"/>
<path d="M520.5,964.7 L523.1,969.5 L525.2,974.8 L526.7,980.5 L527.5,986.5 L527.7,992.7 L527.3,999.1 L526.2,1005.5 L524.6,1011.8 L522.3,1017.9 L519.5,1023.8 L516.2,1029.3 L512.4,1034.4 L508.2,1039.0 L503.7,1043.1 L498.9,1046.4 L493.9,1049.1 L488.8,1051.1 L483.6,1052.2 L478.5,1052.6 L473.5,1052.3 L468.7,1051.1 L464.1,1049.2 L459.9,1046.5 L456.1,1043.1" stroke="#d6d6d6" stroke-width="7" fill="none" filter="url(#b2)"/>
<ellipse cx="486" cy="1000" rx="33" ry="47" transform="rotate(18 486 1000)" fill="#bdbdbd" filter="url(#b1)"/>
<path d="M452.2,1021.1 L451.4,1016.5 L451.0,1011.7 L451.0,1006.7 L451.4,1001.7 L452.3,996.6 L453.5,991.6 L455.2,986.7 L457.2,982.0 L459.5,977.4 L462.2,973.1 L465.1,969.2 L468.3,965.6 L471.7,962.4 L475.3,959.7 L479.0,957.4 L482.8,955.7 L486.6,954.5 L490.4,953.8 L494.2,953.7 L497.8,954.1 L501.4,955.1 L504.7,956.6 L507.8,958.6 L510.7,961.1" stroke="#a4a4a4" stroke-width="2.4" fill="none" filter="url(#b1)"/>
<ellipse cx="495" cy="990" rx="18" ry="26" transform="rotate(18 495 990)" fill="#c2c2c2" filter="url(#b7)"/>
<path d="M380,1152 L428,1118 L500,1066 L534,1036" stroke="#b8b8b8" stroke-width="5" fill="none"/>
</g>
<path d="M385.6,893.8 L389.0,889.0 L410.4,882.5 L413.7,878.0 L418.2,876.3 L425.0,879.0 L447.0,873.0 L470.0,869.0 L479.0,869.5 L486.9,872.4 L493.6,875.7 L499.2,879.0 L515.0,888.7 L530.7,898.2 L531.9,900.5 L537.5,910.6 L544.2,927.5 L548.7,944.4 L551.0,960.0 L550.5,975.0 L549.6,987.5 L544.0,1008.0 L534.4,1035.7 L520.7,1049.4 L500.0,1066.0 L465.0,1092.0 L428.5,1118.2 L380.4,1152.6 L366.6,1147.0 L355.6,1132.0 L351.5,1111.3 L355.6,1101.7 L352.9,1099.0 L340.5,1090.7 L341.9,1086.5 L379.0,1063.0 L385.9,1053.5 L390.0,1037.0 L390.0,1025.0 L383.0,1024.6 L364.6,1015.0 L365.3,1011.5 L377.6,1008.0 L389.0,962.0 L397.0,958.0 L398.0,955.6 L402.5,943.2 L417.0,918.5 L416.0,914.0 L385.6,893.8Z" fill="none" stroke="#000" stroke-width="1.4"/>
<path d="M402.5,962.4 L479,926.4" stroke="#000" stroke-width="1.4"/>
<path d="M418,876.5 L447.5,896" stroke="#000" stroke-width="1.4"/>
<path d="M501,880 L531,899" stroke="#000" stroke-width="1.1"/>
<path d="M534,912 C539,922 542,930 540,938 M537,938 L541,946" stroke="#000" stroke-width="1.1" fill="none"/>
<path d="M422,920 L412,945" stroke="#666" stroke-width="1.3"/>
<path d="M391.4,960 L399.6,964 L390,1017.8 L402.4,1019 L383,1024.6 L364.6,1015 L377.6,1013.6 Z" fill="#f0f0f0" stroke="#000" stroke-width="1.2"/>
<path d="M391.4,960 L377.6,1013.6" stroke="#000" stroke-width="1.2"/>
<path d="M383,1149 L428,1116 L500,1063 L533,1033" stroke="#000" stroke-width="1.0" fill="none"/>
<ellipse cx="448.0" cy="1114.5" rx="2.6" ry="3.3" transform="rotate(20 448.0 1114.5)" fill="#fff" stroke="#000" stroke-width="1.1"/>
<ellipse cx="509.0" cy="1062.0" rx="2.6" ry="3.3" transform="rotate(20 509.0 1062.0)" fill="#fff" stroke="#000" stroke-width="1.1"/>
<ellipse cx="444" cy="902" rx="2.8" ry="3.6" transform="rotate(30 444 902)" fill="#fff" stroke="#000" stroke-width="1.3"/>
<path d="M440,900 L442,904 C448,912 451,918 455,923" stroke="#000" stroke-width="1.1" fill="none"/>
<line x1="487" y1="890" x2="495" y2="889" stroke="#666" stroke-width="1.3"/>
<line x1="496" y1="905" x2="498" y2="912" stroke="#000" stroke-width="1.3"/>
<line x1="495" y1="920" x2="510" y2="916" stroke="#000" stroke-width="1.3"/>
<line x1="440" y1="915" x2="452" y2="913" stroke="#777" stroke-width="1.3"/>
<line x1="469" y1="935" x2="471" y2="942" stroke="#888" stroke-width="1.3"/>
<line x1="376" y1="1066" x2="393" y2="1074" stroke="#666" stroke-width="1.3"/>
<line x1="359" y1="1129" x2="362" y2="1138" stroke="#999" stroke-width="1.3"/>
<line x1="458" y1="911" x2="556" y2="964" stroke="#fff" stroke-width="4.5"/>
<line x1="444" y1="903" x2="556" y2="963" stroke="#000" stroke-width="1.4" stroke-dasharray="7,5"/>
<path d="M370.2,836.5 L380.7,834.2 L383.7,835.7 L385.2,838.8 L380.7,867.2 L369.9,869.5 L374.4,843.3 L366.5,842 L369.5,838.4 Z" fill="#c4c4c4" stroke="#000" stroke-width="1.4"/>
<path d="M370.2,836.5 L374.4,843.3 M374.4,843.3 L385.2,838.8" stroke="#000" stroke-width="0.8" fill="none"/>
<path d="M371,837 L383.5,835.5 L385,838.8 L374.4,843.3 Z" fill="#ececec"/>
<ellipse cx="375.9" cy="862.4" rx="2" ry="3.2" transform="rotate(25 375.9 862.4)" fill="#fff" stroke="#000" stroke-width="1.2"/>
<path d="M1329.5,497.0 L1355.4,512.1 L1358.3,507.1 L1332.5,492.0 Z" fill="#f3f3f3" stroke="none"/><path d="M1329.5,497.0 L1355.4,512.1 M1332.5,492.0 L1358.3,507.1" stroke="#000" stroke-width="1.3" fill="none"/><ellipse cx="1331.0" cy="494.5" rx="1.5" ry="2.9" transform="rotate(30.3 1331.0 494.5)" fill="#f6f6f6" stroke="#666" stroke-width="0.6"/><ellipse cx="1360.5" cy="511.7" rx="5.3" ry="5.8" transform="rotate(30.3 1360.5 511.7)" fill="#f0f0f0" stroke="#000" stroke-width="1.3"/><path d="M1358.8,516.4 L1358.3,515.6 L1358.1,514.6 L1358.2,513.4 L1358.5,512.1 L1359.1,510.9 L1359.9,509.8 L1360.8,508.8 L1361.8,508.2 L1362.8,507.9 L1363.7,507.9" stroke="#000" stroke-width="1.0" fill="none"/><ellipse cx="1362.7" cy="513.0" rx="1.8" ry="2.8" transform="rotate(30.3 1362.7 513.0)" fill="#d6d6d6" stroke="#222" stroke-width="1.1"/>
<path d="M1249.6,547.5 L1278.4,563.2 L1281.2,558.2 L1252.4,542.5 Z" fill="#f3f3f3" stroke="none"/><path d="M1249.6,547.5 L1278.4,563.2 M1252.4,542.5 L1281.2,558.2" stroke="#000" stroke-width="1.3" fill="none"/><ellipse cx="1251.0" cy="545.0" rx="1.5" ry="2.9" transform="rotate(28.6 1251.0 545.0)" fill="#f6f6f6" stroke="#666" stroke-width="0.6"/><ellipse cx="1283.5" cy="562.7" rx="5.3" ry="5.8" transform="rotate(28.6 1283.5 562.7)" fill="#f0f0f0" stroke="#000" stroke-width="1.3"/><path d="M1281.9,567.5 L1281.4,566.7 L1281.2,565.7 L1281.2,564.5 L1281.5,563.2 L1282.1,561.9 L1282.8,560.8 L1283.7,559.8 L1284.7,559.2 L1285.7,558.8 L1286.6,558.8" stroke="#000" stroke-width="1.0" fill="none"/><ellipse cx="1285.8" cy="564.0" rx="1.8" ry="2.8" transform="rotate(28.6 1285.8 564.0)" fill="#d6d6d6" stroke="#222" stroke-width="1.1"/>
<path d="M1291.6,624.5 L1319.4,640.2 L1322.2,635.1 L1294.4,619.5 Z" fill="#f3f3f3" stroke="none"/><path d="M1291.6,624.5 L1319.4,640.2 M1294.4,619.5 L1322.2,635.1" stroke="#000" stroke-width="1.3" fill="none"/><ellipse cx="1293.0" cy="622.0" rx="1.5" ry="2.9" transform="rotate(29.4 1293.0 622.0)" fill="#f6f6f6" stroke="#666" stroke-width="0.6"/><ellipse cx="1324.5" cy="639.7" rx="5.3" ry="5.8" transform="rotate(29.4 1324.5 639.7)" fill="#f0f0f0" stroke="#000" stroke-width="1.3"/><path d="M1322.8,644.4 L1322.3,643.7 L1322.1,642.6 L1322.2,641.5 L1322.5,640.2 L1323.1,638.9 L1323.9,637.8 L1324.8,636.8 L1325.8,636.2 L1326.8,635.8 L1327.7,635.8" stroke="#000" stroke-width="1.0" fill="none"/><ellipse cx="1326.7" cy="641.0" rx="1.8" ry="2.8" transform="rotate(29.4 1326.7 641.0)" fill="#d6d6d6" stroke="#222" stroke-width="1.1"/>
<path d="M1011.0,792.2 L1061.4,822.5 L1064.4,817.5 L1014.0,787.2 Z" fill="#f3f3f3" stroke="none"/><path d="M1011.0,792.2 L1061.4,822.5 M1014.0,787.2 L1064.4,817.5" stroke="#000" stroke-width="1.3" fill="none"/><ellipse cx="1012.5" cy="789.7" rx="1.5" ry="2.9" transform="rotate(31.0 1012.5 789.7)" fill="#f6f6f6" stroke="#666" stroke-width="0.6"/><ellipse cx="1066.5" cy="822.2" rx="5.3" ry="5.8" transform="rotate(31.0 1066.5 822.2)" fill="#f0f0f0" stroke="#000" stroke-width="1.3"/><path d="M1064.7,826.9 L1064.2,826.1 L1064.0,825.1 L1064.1,823.9 L1064.5,822.6 L1065.1,821.4 L1065.9,820.2 L1066.9,819.3 L1067.9,818.7 L1068.9,818.4 L1069.8,818.4" stroke="#000" stroke-width="1.0" fill="none"/><ellipse cx="1068.7" cy="823.5" rx="1.8" ry="2.8" transform="rotate(31.0 1068.7 823.5)" fill="#d6d6d6" stroke="#222" stroke-width="1.1"/>
<path d="M1057.9,790.5 L1106.9,819.5 L1109.8,814.5 L1060.9,785.5 Z" fill="#f3f3f3" stroke="none"/><path d="M1057.9,790.5 L1106.9,819.5 M1060.9,785.5 L1109.8,814.5" stroke="#000" stroke-width="1.3" fill="none"/><ellipse cx="1059.4" cy="788.0" rx="1.5" ry="2.9" transform="rotate(30.6 1059.4 788.0)" fill="#f6f6f6" stroke="#666" stroke-width="0.6"/><ellipse cx="1112.0" cy="819.1" rx="5.3" ry="5.8" transform="rotate(30.6 1112.0 819.1)" fill="#f0f0f0" stroke="#000" stroke-width="1.3"/><path d="M1110.2,823.8 L1109.8,823.0 L1109.6,822.0 L1109.7,820.8 L1110.0,819.5 L1110.6,818.3 L1111.4,817.2 L1112.3,816.2 L1113.4,815.6 L1114.3,815.3 L1115.2,815.3" stroke="#000" stroke-width="1.0" fill="none"/><ellipse cx="1114.2" cy="820.4" rx="1.8" ry="2.8" transform="rotate(30.6 1114.2 820.4)" fill="#d6d6d6" stroke="#222" stroke-width="1.1"/>
<path d="M1092.2,803.1 L1121.0,820.9 L1124.1,816.0 L1095.3,798.1 Z" fill="#f3f3f3" stroke="none"/><path d="M1092.2,803.1 L1121.0,820.9 M1095.3,798.1 L1124.1,816.0" stroke="#000" stroke-width="1.3" fill="none"/><ellipse cx="1093.8" cy="800.6" rx="1.5" ry="2.9" transform="rotate(31.8 1093.8 800.6)" fill="#f6f6f6" stroke="#666" stroke-width="0.6"/><ellipse cx="1126.1" cy="820.7" rx="5.3" ry="5.8" transform="rotate(31.8 1126.1 820.7)" fill="#f0f0f0" stroke="#000" stroke-width="1.3"/><path d="M1124.2,825.3 L1123.8,824.5 L1123.6,823.5 L1123.7,822.3 L1124.1,821.1 L1124.7,819.8 L1125.6,818.7 L1126.5,817.8 L1127.5,817.2 L1128.5,816.9 L1129.4,817.0" stroke="#000" stroke-width="1.0" fill="none"/><ellipse cx="1128.3" cy="822.1" rx="1.8" ry="2.8" transform="rotate(31.8 1128.3 822.1)" fill="#d6d6d6" stroke="#222" stroke-width="1.1"/>
<path d="M964.1,843.7 L1013.1,874.0 L1016.2,869.0 L967.1,838.8 Z" fill="#f3f3f3" stroke="none"/><path d="M964.1,843.7 L1013.1,874.0 M967.1,838.8 L1016.2,869.0" stroke="#000" stroke-width="1.3" fill="none"/><ellipse cx="965.6" cy="841.2" rx="1.5" ry="2.9" transform="rotate(31.6 965.6 841.2)" fill="#f6f6f6" stroke="#666" stroke-width="0.6"/><ellipse cx="1018.2" cy="873.7" rx="5.3" ry="5.8" transform="rotate(31.6 1018.2 873.7)" fill="#f0f0f0" stroke="#000" stroke-width="1.3"/><path d="M1016.4,878.3 L1016.0,877.6 L1015.8,876.5 L1015.9,875.3 L1016.3,874.1 L1016.9,872.8 L1017.7,871.7 L1018.7,870.8 L1019.7,870.2 L1020.7,869.9 L1021.6,870.0" stroke="#000" stroke-width="1.0" fill="none"/><ellipse cx="1020.5" cy="875.0" rx="1.8" ry="2.8" transform="rotate(31.6 1020.5 875.0)" fill="#d6d6d6" stroke="#222" stroke-width="1.1"/>
<path d="M1084.6,864.1 L1113.1,880.4 L1116.0,875.4 L1087.4,859.1 Z" fill="#f3f3f3" stroke="none"/><path d="M1084.6,864.1 L1113.1,880.4 M1087.4,859.1 L1116.0,875.4" stroke="#000" stroke-width="1.3" fill="none"/><ellipse cx="1086.0" cy="861.6" rx="1.5" ry="2.9" transform="rotate(29.7 1086.0 861.6)" fill="#f6f6f6" stroke="#666" stroke-width="0.6"/><ellipse cx="1118.2" cy="880.0" rx="5.3" ry="5.8" transform="rotate(29.7 1118.2 880.0)" fill="#f0f0f0" stroke="#000" stroke-width="1.3"/><path d="M1116.6,884.7 L1116.1,883.9 L1115.9,882.9 L1115.9,881.7 L1116.3,880.5 L1116.8,879.2 L1117.6,878.1 L1118.5,877.1 L1119.5,876.5 L1120.5,876.1 L1121.4,876.2" stroke="#000" stroke-width="1.0" fill="none"/><ellipse cx="1120.5" cy="881.3" rx="1.8" ry="2.8" transform="rotate(29.7 1120.5 881.3)" fill="#d6d6d6" stroke="#222" stroke-width="1.1"/>
<path d="M928.2,896.9 L958.4,914.8 L961.3,909.8 L931.2,891.9 Z" fill="#f3f3f3" stroke="none"/><path d="M928.2,896.9 L958.4,914.8 M931.2,891.9 L961.3,909.8" stroke="#000" stroke-width="1.3" fill="none"/><ellipse cx="929.7" cy="894.4" rx="1.5" ry="2.9" transform="rotate(30.6 929.7 894.4)" fill="#f6f6f6" stroke="#666" stroke-width="0.6"/><ellipse cx="963.5" cy="914.4" rx="5.3" ry="5.8" transform="rotate(30.6 963.5 914.4)" fill="#f0f0f0" stroke="#000" stroke-width="1.3"/><path d="M961.7,919.1 L961.3,918.3 L961.1,917.3 L961.1,916.1 L961.5,914.8 L962.1,913.6 L962.9,912.5 L963.8,911.5 L964.9,910.9 L965.8,910.6 L966.7,910.6" stroke="#000" stroke-width="1.0" fill="none"/><ellipse cx="965.7" cy="915.7" rx="1.8" ry="2.8" transform="rotate(30.6 965.7 915.7)" fill="#d6d6d6" stroke="#222" stroke-width="1.1"/>
<path d="M1048.5,920.3 L1097.4,950.5 L1100.4,945.6 L1051.5,915.3 Z" fill="#f3f3f3" stroke="none"/><path d="M1048.5,920.3 L1097.4,950.5 M1051.5,915.3 L1100.4,945.6" stroke="#000" stroke-width="1.3" fill="none"/><ellipse cx="1050.0" cy="917.8" rx="1.5" ry="2.9" transform="rotate(31.8 1050.0 917.8)" fill="#f6f6f6" stroke="#666" stroke-width="0.6"/><ellipse cx="1102.5" cy="950.3" rx="5.3" ry="5.8" transform="rotate(31.8 1102.5 950.3)" fill="#f0f0f0" stroke="#000" stroke-width="1.3"/><path d="M1100.6,954.9 L1100.2,954.2 L1100.0,953.1 L1100.1,951.9 L1100.5,950.7 L1101.1,949.4 L1102.0,948.3 L1102.9,947.4 L1103.9,946.8 L1104.9,946.5 L1105.8,946.6" stroke="#000" stroke-width="1.0" fill="none"/><ellipse cx="1104.7" cy="951.7" rx="1.8" ry="2.8" transform="rotate(31.8 1104.7 951.7)" fill="#d6d6d6" stroke="#222" stroke-width="1.1"/>
<path d="M936.0,948.5 L966.3,966.3 L969.2,961.3 L939.0,943.5 Z" fill="#f3f3f3" stroke="none"/><path d="M936.0,948.5 L966.3,966.3 M939.0,943.5 L969.2,961.3" stroke="#000" stroke-width="1.3" fill="none"/><ellipse cx="937.5" cy="946.0" rx="1.5" ry="2.9" transform="rotate(30.5 937.5 946.0)" fill="#f6f6f6" stroke="#666" stroke-width="0.6"/><ellipse cx="971.4" cy="965.9" rx="5.3" ry="5.8" transform="rotate(30.5 971.4 965.9)" fill="#f0f0f0" stroke="#000" stroke-width="1.3"/><path d="M969.6,970.6 L969.2,969.9 L969.0,968.8 L969.1,967.6 L969.4,966.4 L970.0,965.1 L970.8,964.0 L971.7,963.1 L972.7,962.4 L973.7,962.1 L974.6,962.1" stroke="#000" stroke-width="1.0" fill="none"/><ellipse cx="973.6" cy="967.3" rx="1.8" ry="2.8" transform="rotate(30.5 973.6 967.3)" fill="#d6d6d6" stroke="#222" stroke-width="1.1"/>
<path d="M976.6,964.1 L1024.1,991.4 L1027.0,986.3 L979.4,959.1 Z" fill="#f3f3f3" stroke="none"/><path d="M976.6,964.1 L1024.1,991.4 M979.4,959.1 L1027.0,986.3" stroke="#000" stroke-width="1.3" fill="none"/><ellipse cx="978.0" cy="961.6" rx="1.5" ry="2.9" transform="rotate(29.8 978.0 961.6)" fill="#f6f6f6" stroke="#666" stroke-width="0.6"/><ellipse cx="1029.2" cy="991.0" rx="5.3" ry="5.8" transform="rotate(29.8 1029.2 991.0)" fill="#f0f0f0" stroke="#000" stroke-width="1.3"/><path d="M1027.5,995.7 L1027.0,994.9 L1026.8,993.9 L1026.9,992.7 L1027.2,991.4 L1027.8,990.2 L1028.6,989.0 L1029.5,988.1 L1030.5,987.4 L1031.5,987.1 L1032.4,987.1" stroke="#000" stroke-width="1.0" fill="none"/><ellipse cx="1031.4" cy="992.2" rx="1.8" ry="2.8" transform="rotate(29.8 1031.4 992.2)" fill="#d6d6d6" stroke="#222" stroke-width="1.1"/>
<path d="M1012.5,967.2 L1061.4,996.1 L1064.3,991.1 L1015.5,962.2 Z" fill="#f3f3f3" stroke="none"/><path d="M1012.5,967.2 L1061.4,996.1 M1015.5,962.2 L1064.3,991.1" stroke="#000" stroke-width="1.3" fill="none"/><ellipse cx="1014.0" cy="964.7" rx="1.5" ry="2.9" transform="rotate(30.6 1014.0 964.7)" fill="#f6f6f6" stroke="#666" stroke-width="0.6"/><ellipse cx="1066.5" cy="995.7" rx="5.3" ry="5.8" transform="rotate(30.6 1066.5 995.7)" fill="#f0f0f0" stroke="#000" stroke-width="1.3"/><path d="M1064.7,1000.4 L1064.3,999.6 L1064.1,998.6 L1064.2,997.4 L1064.5,996.1 L1065.1,994.9 L1065.9,993.8 L1066.8,992.8 L1067.8,992.2 L1068.8,991.9 L1069.7,991.9" stroke="#000" stroke-width="1.0" fill="none"/><ellipse cx="1068.7" cy="997.0" rx="1.8" ry="2.8" transform="rotate(30.6 1068.7 997.0)" fill="#d6d6d6" stroke="#222" stroke-width="1.1"/>
<path d="M555.6,967.7 L591.1,990.8 L594.3,986.0 L558.8,962.9 Z" fill="#f3f3f3" stroke="none"/><path d="M555.6,967.7 L591.1,990.8 M558.8,962.9 L594.3,986.0" stroke="#000" stroke-width="1.3" fill="none"/><ellipse cx="557.2" cy="965.3" rx="1.5" ry="2.9" transform="rotate(33.0 557.2 965.3)" fill="#f6f6f6" stroke="#666" stroke-width="0.6"/><ellipse cx="596.2" cy="990.7" rx="5.3" ry="5.8" transform="rotate(33.0 596.2 990.7)" fill="#f0f0f0" stroke="#000" stroke-width="1.3"/><path d="M594.2,995.3 L593.8,994.5 L593.7,993.5 L593.8,992.3 L594.2,991.0 L594.9,989.8 L595.7,988.7 L596.7,987.8 L597.7,987.2 L598.7,987.0 L599.6,987.0" stroke="#000" stroke-width="1.0" fill="none"/><ellipse cx="598.4" cy="992.1" rx="1.8" ry="2.8" transform="rotate(33.0 598.4 992.1)" fill="#d6d6d6" stroke="#222" stroke-width="1.1"/>
<path d="M636.5,971.3 L671.9,992.8 L674.9,987.8 L639.5,966.3 Z" fill="#f3f3f3" stroke="none"/><path d="M636.5,971.3 L671.9,992.8 M639.5,966.3 L674.9,987.8" stroke="#000" stroke-width="1.3" fill="none"/><ellipse cx="638.0" cy="968.8" rx="1.5" ry="2.9" transform="rotate(31.3 638.0 968.8)" fill="#f6f6f6" stroke="#666" stroke-width="0.6"/><ellipse cx="677.0" cy="992.5" rx="5.3" ry="5.8" transform="rotate(31.3 677.0 992.5)" fill="#f0f0f0" stroke="#000" stroke-width="1.3"/><path d="M675.2,997.2 L674.7,996.4 L674.5,995.3 L674.6,994.2 L675.0,992.9 L675.6,991.7 L676.4,990.5 L677.4,989.6 L678.4,989.0 L679.4,988.7 L680.3,988.7" stroke="#000" stroke-width="1.0" fill="none"/><ellipse cx="679.2" cy="993.8" rx="1.8" ry="2.8" transform="rotate(31.3 679.2 993.8)" fill="#d6d6d6" stroke="#222" stroke-width="1.1"/>
<path d="M632.9,1137.9 L653.0,1150.8 L656.1,1146.0 L636.1,1133.1 Z" fill="#f3f3f3" stroke="none"/><path d="M632.9,1137.9 L653.0,1150.8 M636.1,1133.1 L656.1,1146.0" stroke="#000" stroke-width="1.3" fill="none"/><ellipse cx="634.5" cy="1135.5" rx="1.5" ry="2.9" transform="rotate(32.7 634.5 1135.5)" fill="#f6f6f6" stroke="#666" stroke-width="0.6"/><ellipse cx="658.1" cy="1150.7" rx="5.3" ry="5.8" transform="rotate(32.7 658.1 1150.7)" fill="#f0f0f0" stroke="#000" stroke-width="1.3"/><path d="M656.2,1155.3 L655.7,1154.5 L655.6,1153.5 L655.7,1152.3 L656.1,1151.0 L656.7,1149.8 L657.6,1148.7 L658.6,1147.8 L659.6,1147.2 L660.6,1146.9 L661.5,1147.0" stroke="#000" stroke-width="1.0" fill="none"/><ellipse cx="660.3" cy="1152.1" rx="1.8" ry="2.8" transform="rotate(32.7 660.3 1152.1)" fill="#d6d6d6" stroke="#222" stroke-width="1.1"/>
<path d="M572.9,1191.3 L594.6,1204.2 L597.6,1199.2 L575.9,1186.3 Z" fill="#f3f3f3" stroke="none"/><path d="M572.9,1191.3 L594.6,1204.2 M575.9,1186.3 L597.6,1199.2" stroke="#000" stroke-width="1.3" fill="none"/><ellipse cx="574.4" cy="1188.8" rx="1.5" ry="2.9" transform="rotate(30.8 574.4 1188.8)" fill="#f6f6f6" stroke="#666" stroke-width="0.6"/><ellipse cx="599.7" cy="1203.9" rx="5.3" ry="5.8" transform="rotate(30.8 599.7 1203.9)" fill="#f0f0f0" stroke="#000" stroke-width="1.3"/><path d="M597.9,1208.6 L597.5,1207.8 L597.3,1206.8 L597.3,1205.6 L597.7,1204.3 L598.3,1203.1 L599.1,1201.9 L600.1,1201.0 L601.1,1200.4 L602.1,1200.1 L603.0,1200.1" stroke="#000" stroke-width="1.0" fill="none"/><ellipse cx="601.9" cy="1205.2" rx="1.8" ry="2.8" transform="rotate(30.8 601.9 1205.2)" fill="#d6d6d6" stroke="#222" stroke-width="1.1"/>
<line x1="1262.0" y1="277.0" x2="1199.0" y2="390.6" stroke="#1a1466" stroke-width="1.35"/>
<line x1="1406.8" y1="415.0" x2="1361.8" y2="508.7" stroke="#1a1466" stroke-width="1.35"/>
<line x1="872.7" y1="522.4" x2="800.5" y2="631.5" stroke="#1a1466" stroke-width="1.35"/>
<line x1="962.0" y1="575.4" x2="892.0" y2="704.0" stroke="#1a1466" stroke-width="1.35"/>
<line x1="1160.2" y1="722.5" x2="1114.0" y2="813.0" stroke="#1a1466" stroke-width="1.35"/>
<line x1="1191.5" y1="807.3" x2="1122.0" y2="878.8" stroke="#1a1466" stroke-width="1.35"/>
<line x1="432.5" y1="745.0" x2="381.5" y2="842.9" stroke="#1a1466" stroke-width="1.35"/>
<line x1="541.0" y1="788.5" x2="497.0" y2="889.7" stroke="#1a1466" stroke-width="1.35"/>
<line x1="706.2" y1="917.7" x2="678.5" y2="987.4" stroke="#1a1466" stroke-width="1.35"/>
<line x1="679.2" y1="1088.0" x2="658.6" y2="1147.5" stroke="#1a1466" stroke-width="1.35"/>
<g fill="#000" font-size="44.7">
<text x="900.5" y="353">Coil Cover</text>
<text x="446" y="620">Cam Cover</text>
<text x="209" y="1262">Sprocket Cover</text>
<text x="174.5" y="1557.5" font-size="44.6">© 2020 Polaris Industries Inc.</text>
<text x="1220" y="1561.5" font-size="44.5">201282C</text>
</g>
<g fill="#0000c8" font-size="45.5">
<path d="M1275.6,245.6 L1275.6,277.1 L1271.8,277.1 L1271.8,252.8 L1264.6,257.2 L1264.0,254.0 Q1270.6,250.8 1273.2,245.6 Z"/>
<text x="1408.6" y="403.4">2</text>
<text x="872.4" y="519.5">3</text>
<text x="961.7" y="565.9">4</text>
<text x="1160.5" y="714.1">5</text>
<text x="1192.4" y="809.7">6</text>
<text x="432.5" y="737.5">7</text>
<text x="539.5" y="777.5">8</text>
<text x="704.2" y="906.0">9</text>
<path d="M680.3,1044.7 L680.3,1076.2 L676.5,1076.2 L676.5,1051.9 L669.3,1056.3 L668.7,1053.1 Q675.3,1049.9 677.9,1044.7 Z"/>
<text x="688.8" y="1078.0">0</text>
</g>
</svg></body></html>
